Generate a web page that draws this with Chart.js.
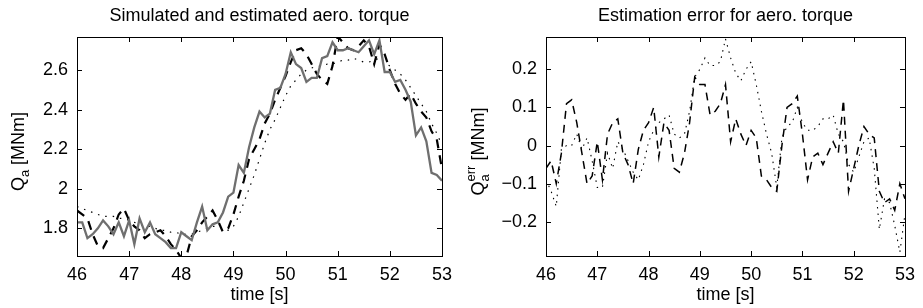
<!DOCTYPE html>
<html>
<head>
<meta charset="utf-8">
<script src="https://cdn.jsdelivr.net/npm/chart.js@4/dist/chart.umd.min.js"></script>
<style>
body { margin: 0; background: #fff; width: 923px; height: 308px; overflow: hidden; }
.box { position: absolute; top: 0; height: 308px; }
</style>
</head>
<body>
<div class="box" style="left:0;width:460px"><canvas id="torque" width="460" height="308"></canvas></div>
<div class="box" style="left:460px;width:463px"><canvas id="error" width="463" height="308"></canvas></div>
<script>
// time axis [s], 0.1 s samples
let time = [46.0,46.1,46.2,46.3,46.4,46.5,46.6,46.7,46.8,46.9,
            47.0,47.1,47.2,47.3,47.4,47.5,47.6,47.7,47.8,47.9,
            48.0,48.1,48.2,48.3,48.4,48.5,48.6,48.7,48.8,48.9,
            49.0,49.1,49.2,49.3,49.4,49.5,49.6,49.7,49.8,49.9,
            50.0,50.1,50.2,50.3,50.4,50.5,50.6,50.7,50.8,50.9,
            51.0,51.1,51.2,51.3,51.4,51.5,51.6,51.7,51.8,51.9,
            52.0,52.1,52.2,52.3,52.4,52.5,52.6,52.7,52.8,52.9,
            53.0];

// simulated aero torque [MNm] (grey solid)
let simQ = [1.83,1.83,1.75,1.77,1.80,1.84,1.81,1.77,1.83,1.76,
            1.84,1.72,1.85,1.78,1.83,1.77,1.75,1.73,1.70,1.70,
            1.78,1.76,1.74,1.83,1.91,1.79,1.82,1.83,1.88,1.96,
            1.98,2.12,2.08,2.21,2.31,2.39,2.36,2.38,2.50,2.51,
            2.58,2.69,2.63,2.61,2.54,2.56,2.56,2.66,2.67,2.74,
            2.70,2.70,2.71,2.70,2.69,2.72,2.75,2.68,2.75,2.59,
            2.59,2.54,2.55,2.50,2.44,2.27,2.31,2.24,2.08,2.07,
            2.04];

// estimate 1 (black dashed)
let estQ1 = [1.89,1.87,1.85,1.77,1.71,1.70,1.75,1.80,1.87,1.90,
             1.84,1.81,1.79,1.75,1.77,1.78,1.79,1.76,1.72,1.69,
             1.65,1.66,1.76,1.79,1.83,1.86,1.89,1.84,1.78,1.80,
             1.87,1.96,2.04,2.15,2.20,2.25,2.33,2.38,2.45,2.51,
             2.57,2.64,2.70,2.71,2.68,2.63,2.58,2.55,2.53,2.62,
             2.77,2.74,2.71,2.70,2.72,2.75,2.72,2.63,2.73,2.68,
             2.60,2.53,2.48,2.45,2.48,2.43,2.39,2.36,2.29,2.25,
             2.10];

// estimate 2 (black dotted)
let estQ2 = [1.91,1.90,1.89,1.88,1.87,1.86,1.86,1.86,1.85,1.85,
             1.84,1.83,1.82,1.81,1.81,1.80,1.79,1.79,1.78,1.78,
             1.77,1.77,1.77,1.78,1.79,1.80,1.81,1.81,1.80,1.79,
             1.81,1.86,1.93,2.00,2.07,2.15,2.23,2.30,2.35,2.41,
             2.47,2.52,2.55,2.58,2.60,2.61,2.62,2.62,2.63,2.63,
             2.64,2.65,2.65,2.66,2.65,2.64,2.64,2.65,2.66,2.64,
             2.62,2.60,2.58,2.55,2.51,2.47,2.43,2.39,2.33,2.28,
             2.22];

// estimation errors [MNm]
let errQ1 = [-0.06,-0.04,-0.10,-0.02,0.11,0.12,0.06,-0.02,-0.10,-0.08,
             0.01,-0.09,0.03,0.06,0.07,-0.02,-0.05,-0.10,-0.01,0.04,
             0.06,0.10,-0.03,0.06,0.04,-0.06,-0.07,-0.02,0.06,0.18,
             0.16,0.16,0.08,0.09,0.11,0.16,0.01,0.07,0.03,0.00,
             0.04,0.02,-0.08,-0.09,-0.11,-0.12,0.00,0.10,0.11,0.13,
             0.03,-0.09,-0.03,-0.02,-0.05,-0.02,0.01,-0.02,0.12,-0.12,
             -0.06,0.00,0.05,0.03,0.02,-0.12,-0.15,-0.14,-0.17,-0.10,
             -0.14];

let errQ2 = [-0.09,-0.12,-0.16,-0.01,0.00,0.00,0.03,-0.01,0.02,-0.04,
             -0.11,-0.11,-0.02,-0.06,0.01,-0.01,-0.04,-0.07,-0.09,-0.05,
             0.01,0.04,0.06,0.07,0.08,0.03,0.02,0.03,0.09,0.18,
             0.20,0.23,0.21,0.21,0.22,0.28,0.23,0.19,0.17,0.20,
             0.22,0.16,0.09,0.03,-0.02,-0.11,0.02,0.05,0.06,0.10,
             0.06,0.04,0.04,0.05,0.07,0.07,0.08,0.03,0.01,-0.05,
             -0.07,-0.03,0.01,0.02,-0.06,-0.22,-0.14,-0.15,-0.21,-0.28,
             -0.18];

let xTicks = [46, 47, 48, 49, 50, 51, 52, 53];
let yTicksQ = [1.8, 2, 2.2, 2.4, 2.6];
let yTicksErr = [-0.2, -0.1, 0, 0.1, 0.2];

const FONT = '"Liberation Sans", Arial, sans-serif';

function pts(ys) {
    return ys.map((y, i) => ({ x: time[i], y: y }));
}

// matlab style box with inward ticks on all four sides
const boxTicks = {
    id: 'boxTicks',
    afterDatasetsDraw(chart) {
        let ctx = chart.ctx, a = chart.chartArea;
        let x = chart.scales.x, y = chart.scales.y;
        ctx.save();
        ctx.strokeStyle = '#000';
        ctx.lineWidth = 1;
        ctx.strokeRect(Math.round(a.left) + 0.5, Math.round(a.top) + 0.5,
                       Math.round(a.right - a.left), Math.round(a.bottom - a.top));
        ctx.beginPath();
        for (let t of x.ticks) {
            let px = Math.round(x.getPixelForValue(t.value)) + 0.5;
            ctx.moveTo(px, a.bottom); ctx.lineTo(px, a.bottom - 5);
            ctx.moveTo(px, a.top); ctx.lineTo(px, a.top + 5);
        }
        for (let t of y.ticks) {
            let py = Math.round(y.getPixelForValue(t.value)) + 0.5;
            ctx.moveTo(a.left, py); ctx.lineTo(a.left + 5, py);
            ctx.moveTo(a.right, py); ctx.lineTo(a.right - 5, py);
        }
        ctx.stroke();
        ctx.restore();
    }
};

// title centred over the plot box, y label with sub/superscript
const labels = {
    id: 'labels',
    afterDraw(chart, args, o) {
        let ctx = chart.ctx, a = chart.chartArea;
        let big = '18px ' + FONT, small = '13px ' + FONT;
        ctx.save();
        ctx.fillStyle = '#000';
        ctx.font = big;
        ctx.textAlign = 'center';
        ctx.textBaseline = 'middle';
        ctx.fillText(o.title, (a.left + a.right) / 2, 16);

        ctx.textAlign = 'left';
        ctx.textBaseline = 'alphabetic';
        ctx.translate(o.x, (a.top + a.bottom) / 2 + o.dy);
        ctx.rotate(-Math.PI / 2);
        let wQ = ctx.measureText('Q').width, wR = ctx.measureText(o.rest).width;
        ctx.font = small;
        let wS = Math.max(ctx.measureText(o.sub).width, o.sup ? ctx.measureText(o.sup).width : 0);
        let cx = -(wQ + wS + wR) / 2;
        ctx.font = big;
        ctx.fillText('Q', cx, 0);
        cx += wQ;
        ctx.font = small;
        ctx.fillText(o.sub, cx, 5);
        if (o.sup) ctx.fillText(o.sup, cx, -9);
        cx += wS;
        ctx.font = big;
        ctx.fillText(o.rest, cx, 0);
        ctx.restore();
    }
};

function fmt(v) {
    let s = String(Math.round(v * 10) / 10);
    return s.replace('-', '\u2212');
}

function makeChart(id, datasets, yMin, yMax, yTicks, yWidth, padRight, label) {
    return new Chart(document.getElementById(id), {
        type: 'line',
        data: { datasets: datasets },
        options: {
            responsive: false,
            animation: false,
            events: [],
            layout: { padding: { left: 0, right: padRight, top: 37, bottom: 0 } },
            elements: { point: { radius: 0 }, line: { tension: 0 } },
            plugins: {
                legend: { display: false },
                tooltip: { enabled: false },
                labels: label
            },
            scales: {
                x: {
                    type: 'linear',
                    min: 46, max: 53,
                    grid: { display: false, drawTicks: false },
                    border: { display: false },
                    afterBuildTicks: s => { s.ticks = xTicks.map(v => ({ value: v })); },
                    afterFit: s => { s.height = 52; },
                    ticks: {
                        color: '#000', padding: 8, maxRotation: 0,
                        font: { family: FONT, size: 18 },
                        callback: v => String(v)
                    },
                    title: {
                        display: true, text: 'time [s]', color: '#000',
                        font: { family: FONT, size: 18, lineHeight: 1.2 },
                        padding: { top: 0, bottom: 2 }
                    }
                },
                y: {
                    min: yMin, max: yMax,
                    grid: { display: false, drawTicks: false },
                    border: { display: false },
                    afterBuildTicks: s => { s.ticks = yTicks.map(v => ({ value: v })); },
                    afterFit: s => { s.width = yWidth; },
                    ticks: {
                        color: '#000', padding: 9,
                        font: { family: FONT, size: 18 },
                        callback: v => fmt(v)
                    }
                }
            }
        },
        plugins: [boxTicks, labels]
    });
}

makeChart('torque', [
    { data: pts(simQ), borderColor: '#6f6f6f', borderWidth: 2.3 },
    { data: pts(estQ1), borderColor: '#000', borderWidth: 2.2, borderDash: [9, 7] },
    { data: pts(estQ2), borderColor: '#000', borderWidth: 1.2, borderDash: [1.5, 6] }
], 1.66, 2.767, yTicksQ, 77, 17,
   { title: 'Simulated and estimated aero. torque', sub: 'a', sup: '', rest: ' [MNm]', x: 24, dy: 5 });

makeChart('error', [
    { data: pts(errQ1), borderColor: '#000', borderWidth: 1.5, borderDash: [8, 6] },
    { data: pts(errQ2), borderColor: '#000', borderWidth: 1.1, borderDash: [1.5, 5] }
], -0.29, 0.285, yTicksErr, 86, 11,
   { title: 'Estimation error for aero. torque', sub: 'a', sup: 'err', rest: ' [MNm]', x: 24, dy: 5 });
</script>
</body>
</html>
